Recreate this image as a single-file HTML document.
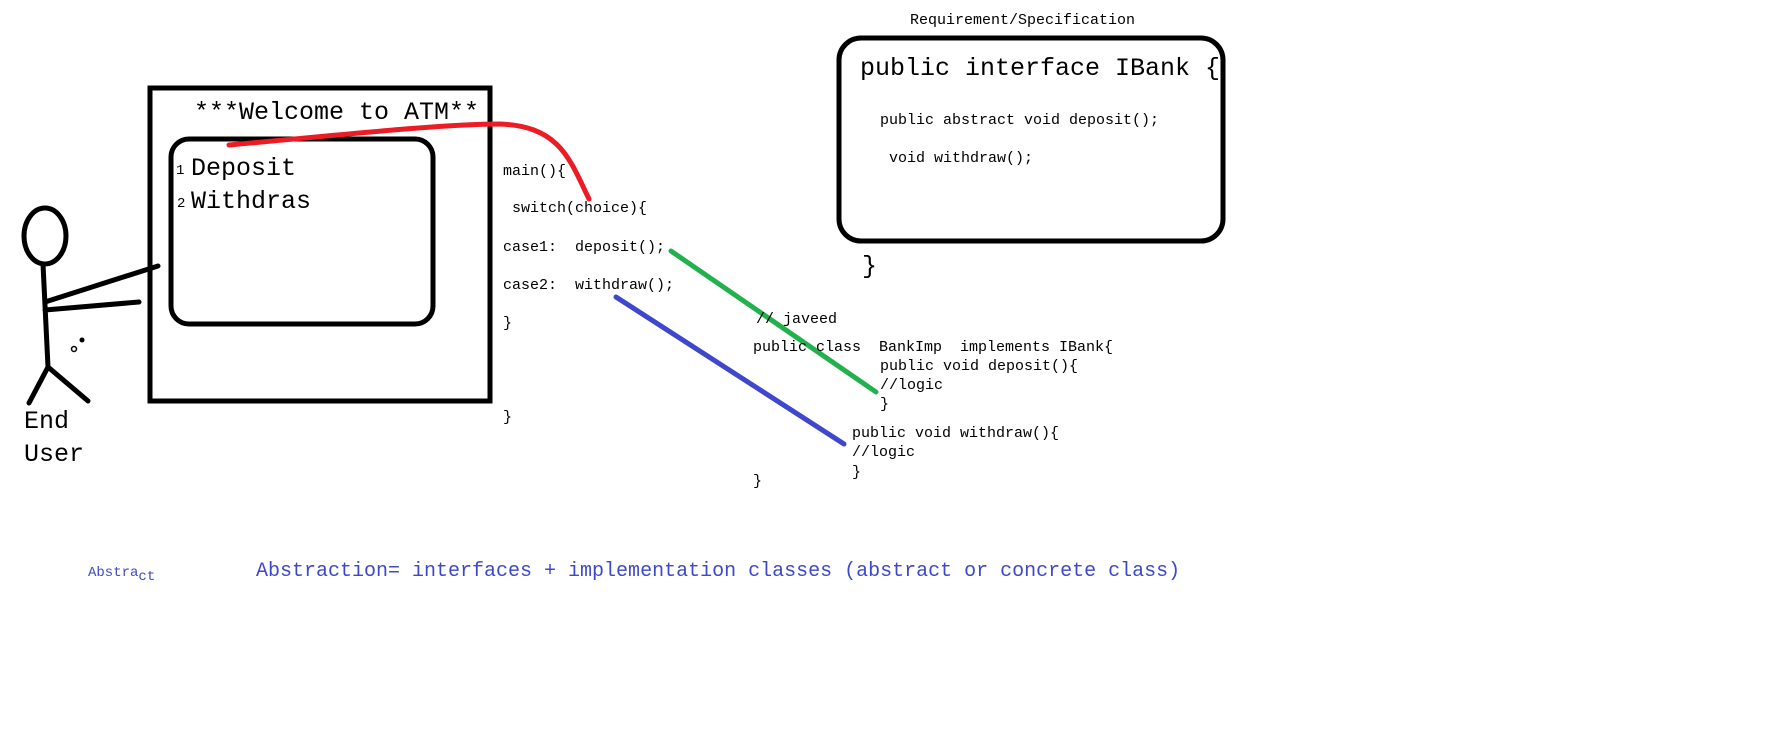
<!DOCTYPE html>
<html><head><meta charset="utf-8"><style>
html,body{margin:0;padding:0;background:#fff;}
svg{display:block;}
text{font-family:"Liberation Mono",monospace;fill:#000;white-space:pre;}
.s{font-size:15px;}
.b{font-size:25px;}
</style></head><body>
<svg width="1771" height="743" viewBox="0 0 1771 743" xmlns="http://www.w3.org/2000/svg" xml:space="preserve">
<rect x="0" y="0" width="1771" height="743" fill="#fff"/>
<rect x="150" y="88" width="340" height="313" fill="none" stroke="#000" stroke-width="5"/>
<rect x="171" y="139" width="262" height="185" rx="18" fill="none" stroke="#000" stroke-width="5"/>
<text class="b" x="194" y="119">***Welcome to ATM**</text>
<text x="176" y="174" style="font-size:14px">1</text>
<text class="b" x="191" y="175">Deposit</text>
<text x="177" y="207" style="font-size:14px">2</text>
<text class="b" x="191" y="208">Withdras</text>
<ellipse cx="45" cy="236" rx="21" ry="28" fill="none" stroke="#000" stroke-width="5"/>
<path d="M43 264 L48 367 M48 367 L29 403 M48 367 L88 401 M45 302 L158 266 M45 310 L139 302" stroke="#000" stroke-width="5" fill="none" stroke-linecap="round"/>
<circle cx="82" cy="340" r="2.5" fill="#000"/>
<circle cx="74" cy="349" r="2.5" fill="none" stroke="#000" stroke-width="1.5"/>
<text class="b" x="24" y="428">End</text>
<text class="b" x="24" y="461">User</text>
<path d="M229 145 C330 136 440 124 500 124 C560 126 570 160 589 199" stroke="#ed1c24" stroke-width="5" fill="none" stroke-linecap="round"/>
<text class="s" x="503" y="175">main(){</text>
<text class="s" x="503" y="212"> switch(choice){</text>
<text class="s" x="503" y="251">case1:  deposit();</text>
<text class="s" x="503" y="289">case2:  withdraw();</text>
<text class="s" x="503" y="327">}</text>
<text class="s" x="503" y="421">}</text>
<line x1="671" y1="251" x2="876" y2="392" stroke="#22b14c" stroke-width="5" stroke-linecap="round"/>
<line x1="616" y1="297" x2="844" y2="444" stroke="#3f48cc" stroke-width="5" stroke-linecap="round"/>
<text class="s" x="756" y="323">// javeed</text>
<text class="s" x="753" y="351">public class  BankImp  implements IBank{</text>
<text class="s" x="880" y="370">public void deposit(){</text>
<text class="s" x="880" y="389">//logic</text>
<text class="s" x="880" y="408">}</text>
<text class="s" x="852" y="437">public void withdraw(){</text>
<text class="s" x="852" y="456">//logic</text>
<text class="s" x="852" y="476">}</text>
<text class="s" x="753" y="485">}</text>
<text class="s" x="910" y="24">Requirement/Specification</text>
<rect x="839" y="38" width="384" height="203" rx="22" fill="none" stroke="#000" stroke-width="5"/>
<text class="b" x="860" y="75">public interface IBank {</text>
<text class="s" x="880" y="124">public abstract void deposit();</text>
<text class="s" x="889" y="162">void withdraw();</text>
<text class="b" x="862" y="273">}</text>
<text x="88" y="576" style="font-size:14px;fill:#3f48cc">Abstra<tspan dy="4">ct</tspan></text>
<text x="256" y="576" style="font-size:20px;fill:#3f48cc">Abstraction= interfaces + implementation classes (abstract or concrete class)</text>
</svg>
</body></html>
